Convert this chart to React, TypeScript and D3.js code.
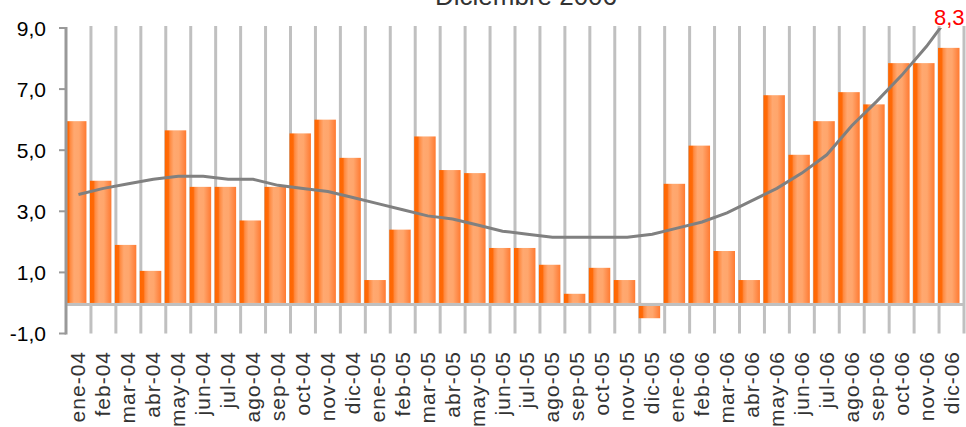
import * as React from "react";
import { scaleBand, scaleLinear, line } from "d3";

const categories = [
  "ene-04", "feb-04", "mar-04", "abr-04", "may-04", "jun-04",
  "jul-04", "ago-04", "sep-04", "oct-04", "nov-04", "dic-04",
  "ene-05", "feb-05", "mar-05", "abr-05", "may-05", "jun-05",
  "jul-05", "ago-05", "sep-05", "oct-05", "nov-05", "dic-05",
  "ene-06", "feb-06", "mar-06", "abr-06", "may-06", "jun-06",
  "jul-06", "ago-06", "sep-06", "oct-06", "nov-06", "dic-06",
];

const monthly = [
  5.95, 4.0, 1.9, 1.05, 5.65, 3.8, 3.8, 2.7, 3.8, 5.55, 6.0, 4.75,
  0.75, 2.4, 5.45, 4.35, 4.25, 1.8, 1.8, 1.25, 0.3, 1.15, 0.75, -0.5,
  3.9, 5.15, 1.7, 0.75, 6.8, 4.85, 5.95, 6.9, 6.5, 7.85, 7.85, 8.35,
];

const trend = [
  3.55, 3.75, 3.9, 4.05, 4.15, 4.15, 4.05, 4.05, 3.85, 3.75, 3.65, 3.45,
  3.25, 3.05, 2.85, 2.75, 2.55, 2.35, 2.25, 2.15, 2.15, 2.15, 2.15, 2.25,
  2.45, 2.65, 2.95, 3.35, 3.75, 4.25, 4.85, 5.8, 6.6, 7.45, 8.4, 9.5,
];

const yTicks = [-1, 1, 3, 5, 7, 9];
const title = "Diciembre 2006";
const lastLabel = "8,3";

const fmt = (v: number) => v.toFixed(1).replace(".", ",");

export default function App() {
  const width = 966;
  const height = 427;
  const left = 66;
  const right = 964;
  const top = 28;
  const bottom = 333.5;

  const x = scaleBand<string>().domain(categories).range([left, right]).padding(0);
  const y = scaleLinear().domain([-1, 9]).range([bottom, top]);
  const bw = x.bandwidth();
  const font = "'Liberation Sans', Arial, sans-serif";

  const trendPath = line<number>()
    .x((_, i) => (x(categories[i]) as number) + bw / 2)
    .y((d) => y(d))(trend);

  const lastX = (x(categories[categories.length - 1]) as number) + bw / 2;

  return (
    <svg
      width={width}
      height={height}
      style={{ position: "absolute", left: 0, top: 0, background: "#fff" }}
    >
      <defs>
        <linearGradient id="barGrad" x1="0" x2="1" y1="0" y2="0">
          <stop offset="0%" stopColor="#ff6600" />
          <stop offset="17%" stopColor="#ff6a08" />
          <stop offset="24%" stopColor="#ff8a40" />
          <stop offset="42%" stopColor="#ffa870" />
          <stop offset="65%" stopColor="#ffa66c" />
          <stop offset="82%" stopColor="#ff9050" />
          <stop offset="100%" stopColor="#ff7a30" />
        </linearGradient>
        <clipPath id="plotClip">
          <rect x={left} y={top} width={right - left} height={bottom - top} />
        </clipPath>
      </defs>

      <text
        x={526}
        y={5}
        textAnchor="middle"
        fontFamily={font}
        fontSize={26}
        fill="#333"
      >
        {title}
      </text>

      {/* vertical grid lines at category boundaries */}
      {categories.map((c, i) => (
        <line
          key={`g-${c}`}
          x1={(x(c) as number) + (i === 0 ? bw : bw)}
          x2={(x(c) as number) + bw}
          y1={top - 2}
          y2={bottom}
          stroke="#c0c0c0"
          strokeWidth={3}
        />
      ))}

      {/* bars */}
      {categories.map((c, i) => {
        const v = monthly[i];
        const y0 = y(0);
        const yv = y(v);
        return (
          <rect
            key={`b-${c}`}
            x={(x(c) as number) - 1}
            y={Math.min(y0, yv)}
            width={bw - 3.5}
            height={Math.abs(yv - y0)}
            fill="url(#barGrad)"
          />
        );
      })}

      {/* zero line */}
      <line x1={left} x2={right + 1} y1={y(0) + 1.5} y2={y(0) + 1.5} stroke="#c0c0c0" strokeWidth={3} />

      {/* trend */}
      <path
        d={trendPath ?? ""}
        fill="none"
        stroke="#808080"
        strokeWidth={3}
        clipPath="url(#plotClip)"
      />

      {/* y axis */}
      <line x1={left} x2={left} y1={top - 1} y2={bottom + 1} stroke="#999" strokeWidth={3} />
      {yTicks.map((t) => (
        <g key={`t-${t}`}>
          <line x1={left - 7} x2={left} y1={y(t)} y2={y(t)} stroke="#999" strokeWidth={2} />
          <text
            x={46}
            y={y(t)}
            dy="0.36em"
            textAnchor="end"
            fontFamily={font}
            fontSize={21}
            fill="#000"
          >
            {fmt(t)}
          </text>
        </g>
      ))}

      {/* x labels */}
      {categories.map((c) => {
        const cx = (x(c) as number) + bw / 2;
        return (
          <text
            key={`l-${c}`}
            transform={`translate(${cx + 7},351) rotate(-90)`}
            textAnchor="end"
            fontFamily={font}
            fontSize={21}
            letterSpacing={1}
            fill="#333"
          >
            {c}
          </text>
        );
      })}

      <text
        x={lastX + 13}
        y={25}
        textAnchor="end"
        fontFamily={font}
        fontSize={22}
        fill="#ff0000"
      >
        {lastLabel}
      </text>
    </svg>
  );
}
